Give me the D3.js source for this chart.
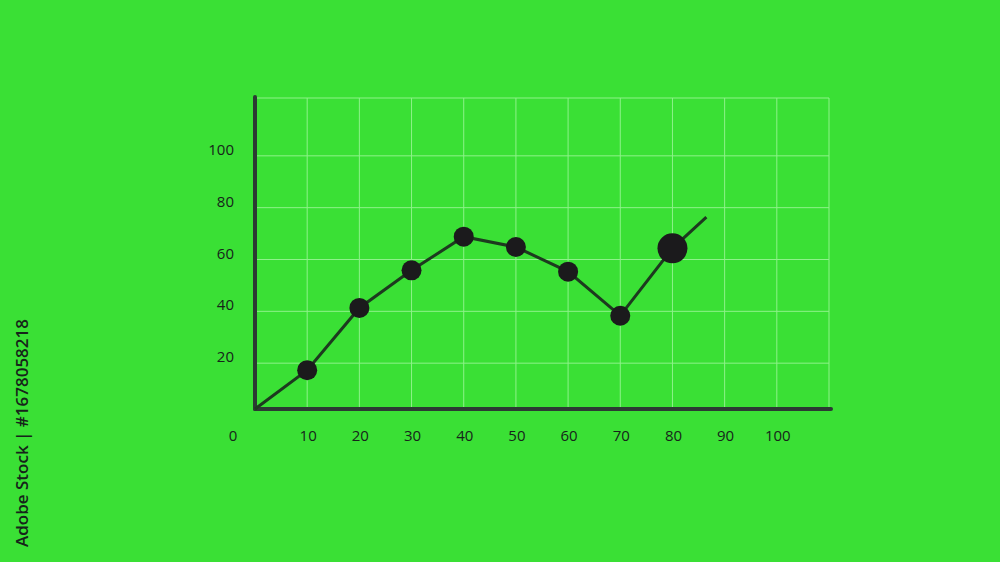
<!DOCTYPE html>
<html>
<head>
<meta charset="utf-8">
<script src="https://cdn.jsdelivr.net/npm/d3@7"></script>
<style>
  html, body { margin: 0; padding: 0; background: #3ae035; }
  svg { display: block; font-family: "Open Sans", "Noto Sans", sans-serif; }
  .tick-label { font-size: 15px; fill: #16241a; }
</style>
</head>
<body>
<div id="app"></div>
<script>
const xTicks = [0, 10, 20, 30, 40, 50, 60, 70, 80, 90, 100];
const yTicks = [20, 40, 60, 80, 100];
const xGrid = [10, 20, 30, 40, 50, 60, 70, 80, 90, 100, 110];
const pointX = [10, 20, 30, 40, 50, 60, 70, 80];
const pointY = [15, 39, 53.5, 66.5, 62.5, 53, 36, 62];
const lineEnd = [86.5, 74];
const bigPoint = 80;

function render() {
  const width = 1000;
  const height = 562;
  const svg = d3.select('#app').append('svg').attr('width', width).attr('height', height);

  const x = d3.scaleLinear([0, 110], [255, 829]);
  const y = d3.scaleLinear([0, 120], [409, 98]);
  const gridShift = 6;
  const gridColor = '#8ef28a';

  const grid = svg.append('g');
  // horizontal grid
  grid.selectAll('line.h').data(yTicks).join('line')
    .attr('class', 'h')
    .attr('x1', x(0)).attr('x2', x(110))
    .attr('y1', d => y(d) + gridShift).attr('y2', d => y(d) + gridShift)
    .attr('stroke', gridColor).attr('stroke-width', 1);
  grid.append('line')
    .attr('x1', x(0)).attr('x2', x(110))
    .attr('y1', y(120)).attr('y2', y(120))
    .attr('stroke', gridColor).attr('stroke-width', 1);
  // vertical grid
  grid.selectAll('line.v').data(xGrid).join('line')
    .attr('class', 'v')
    .attr('x1', d => x(d)).attr('x2', d => x(d))
    .attr('y1', y(120)).attr('y2', y(0))
    .attr('stroke', gridColor).attr('stroke-width', 1);

  // axes
  svg.append('line')
    .attr('x1', x(0)).attr('x2', x(110) + 2)
    .attr('y1', y(0)).attr('y2', y(0))
    .attr('stroke', '#2c3a33').attr('stroke-width', 4).attr('stroke-linecap', 'round');
  svg.append('line')
    .attr('x1', x(0)).attr('x2', x(0))
    .attr('y1', y(120) - 1).attr('y2', y(0))
    .attr('stroke', '#2c3a33').attr('stroke-width', 4).attr('stroke-linecap', 'round');

  // tick labels
  svg.selectAll('text.xl').data(xTicks).join('text')
    .attr('class', 'tick-label xl')
    .attr('x', d => d === 0 ? x(0) - 22 : x(d) + 1)
    .attr('y', 441)
    .attr('text-anchor', 'middle')
    .text(d => d);
  svg.selectAll('text.yl').data(yTicks).join('text')
    .attr('class', 'tick-label yl')
    .attr('x', 234)
    .attr('y', d => y(d) + 5)
    .attr('text-anchor', 'end')
    .text(d => d);

  // data line
  const pts = pointX.map((d, i) => [d, pointY[i]]);
  pts.unshift([0, 0]);
  pts.push(lineEnd);
  const line = d3.line().x(d => x(d[0])).y(d => y(d[1]));
  svg.append('path')
    .attr('d', line(pts))
    .attr('fill', 'none')
    .attr('stroke', '#1d3a1f')
    .attr('stroke-width', 3);

  svg.selectAll('circle').data(pointX).join('circle')
    .attr('cx', d => x(d))
    .attr('cy', (d, i) => y(pointY[i]))
    .attr('r', d => d === bigPoint ? 15 : 10)
    .attr('fill', '#1b1a1c');

  // side credit
  svg.append('text')
    .attr('transform', 'translate(28, 433) rotate(-90)')
    .attr('text-anchor', 'middle')
    .attr('font-size', 17)
    .attr('font-weight', 600)
    .attr('fill', '#16241a')
    .text('Adobe Stock | #1678058218');
}

render();
</script>
</body>
</html>
